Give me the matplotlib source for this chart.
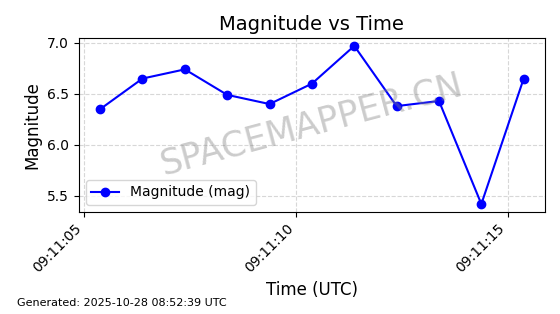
import matplotlib
matplotlib.use('Agg')
import matplotlib.pyplot as plt
import matplotlib.dates as mdates
import pandas as pd

# magnitude readings, one per second
times = pd.to_datetime([
    '2025-10-28 09:11:05.38', '2025-10-28 09:11:06.38', '2025-10-28 09:11:07.38',
    '2025-10-28 09:11:08.38', '2025-10-28 09:11:09.38', '2025-10-28 09:11:10.38',
    '2025-10-28 09:11:11.38', '2025-10-28 09:11:12.38', '2025-10-28 09:11:13.38',
    '2025-10-28 09:11:14.38', '2025-10-28 09:11:15.38'])
magnitude = [6.35, 6.65, 6.74, 6.49, 6.40, 6.60, 6.97, 6.38, 6.43, 5.42, 6.65]

fig, ax = plt.subplots(figsize=(5.6, 3.14), dpi=100)
ax.plot(times, magnitude, marker='o', color='blue', linestyle='-', label='Magnitude (mag)')
ax.set_title('Magnitude vs Time', fontsize=14)
ax.set_xlabel('Time (UTC)', fontsize=12)
ax.set_ylabel('Magnitude', fontsize=12)
ax.grid(True, linestyle='--', color='lightgray', alpha=0.9)
ax.xaxis.set_major_locator(mdates.SecondLocator(bysecond=range(0, 60, 5)))
ax.xaxis.set_major_formatter(mdates.DateFormatter('%H:%M:%S'))
plt.setp(ax.get_xticklabels(), rotation=45, ha='right')
ax.legend(loc='lower left')

# watermark
ax.text(0.5, 0.5, 'SPACEMAPPER.CN', transform=ax.transAxes, fontsize=25,
        color='gray', alpha=0.4, rotation=15, ha='center', va='center')

fig.subplots_adjust(left=0.141, right=0.973, top=0.879, bottom=0.325)
fig.text(0.03, 0.025, 'Generated: 2025-10-28 08:52:39 UTC', fontsize=8)
fig.savefig('out.png', dpi=100)
